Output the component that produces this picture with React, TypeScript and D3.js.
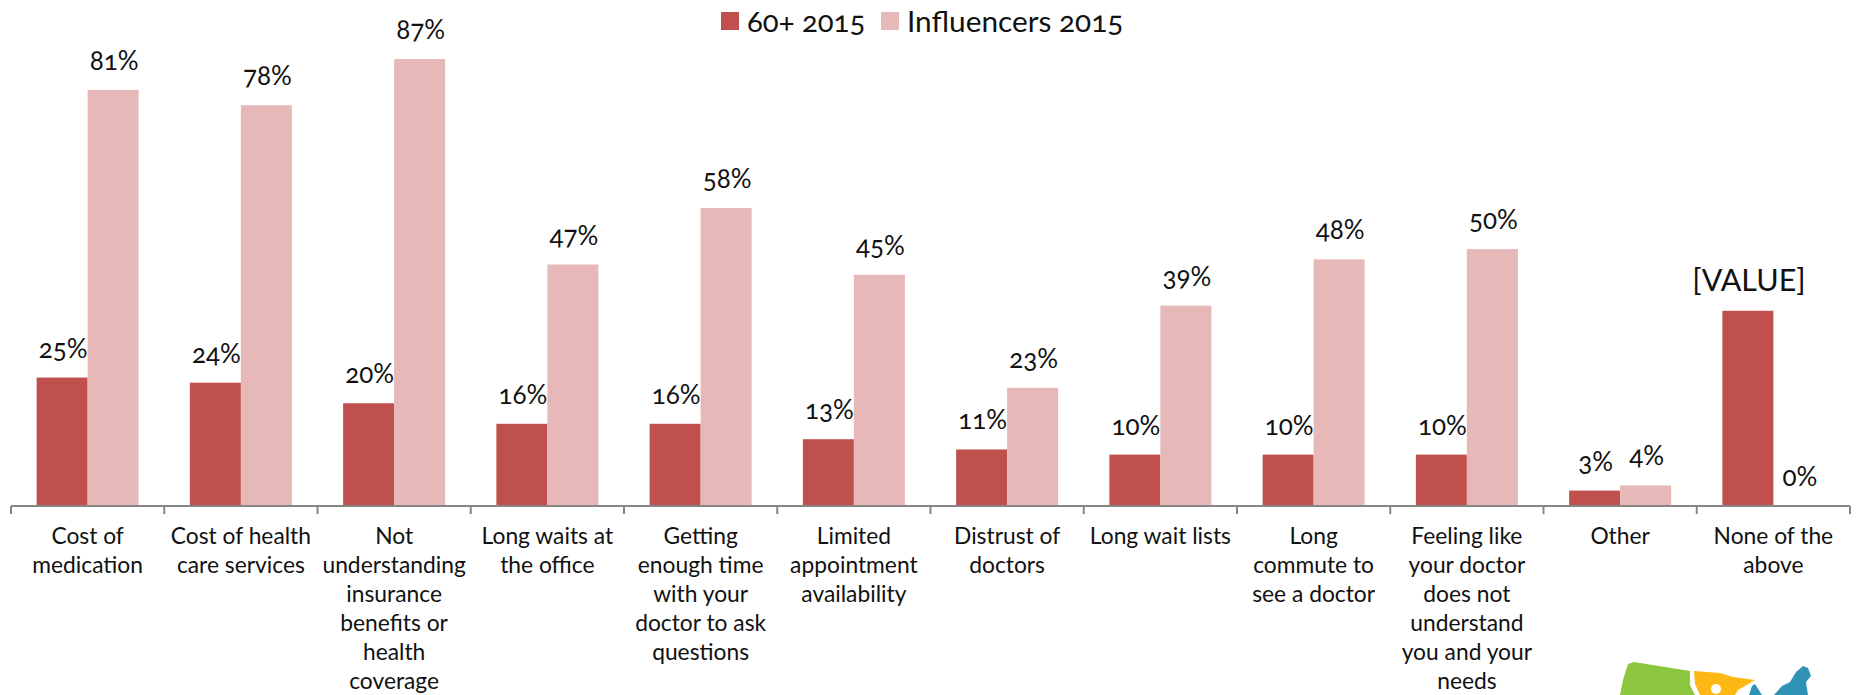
import React from "react";
import * as d3 from "d3";

const categories = [
  ["Cost of", "medication"],
  ["Cost of health", "care services"],
  ["Not", "understanding", "insurance", "benefits or", "health", "coverage"],
  ["Long waits at", "the office"],
  ["Getting", "enough time", "with your", "doctor to ask", "questions"],
  ["Limited", "appointment", "availability"],
  ["Distrust of", "doctors"],
  ["Long wait lists"],
  ["Long", "commute to", "see a doctor"],
  ["Feeling like", "your doctor", "does not", "understand", "you and your", "needs"],
  ["Other"],
  ["None of the", "above"],
];
const seniors = [25, 24, 20, 16, 16, 13, 11, 10, 10, 10, 3, 38];
const influencers = [81, 78, 87, 47, 58, 45, 23, 39, 48, 50, 4, 0];
const seniorLabels = ["25%", "24%", "20%", "16%", "16%", "13%", "11%", "10%", "10%", "10%", "3%", "[VALUE]"];
const influencerLabels = ["81%", "78%", "87%", "47%", "58%", "45%", "23%", "39%", "48%", "50%", "4%", "0%"];
const seriesNames = ["60+ 2015", "Influencers 2015"];

const RED = "#c0504d";
const PINK = "#e6b8b7";
const FONT = "Lato, 'Open Sans', sans-serif";
const AXIS_Y = 506;

export default function App() {
  const x = d3.scaleBand<number>().domain(d3.range(categories.length)).range([11, 1850]).paddingInner(0).paddingOuter(0);
  const y = d3.scaleLinear().domain([0, 87]).range([AXIS_Y, 59]);
  const step = x.step();
  const barW = 51;
  const cx = (i: number) => (x(i) as number) + step / 2;
  return (
    <svg width={1856} height={695} style={{ position: "absolute", left: 0, top: 0, display: "block", background: "#fff" }} fontFamily={FONT} fill="#111">
      {categories.map((_, i) => (
        <g key={i}>
          <rect x={cx(i) - barW} y={y(seniors[i])} width={barW} height={AXIS_Y - y(seniors[i])} fill={RED} />
          <rect x={cx(i)} y={y(influencers[i])} width={barW} height={AXIS_Y - y(influencers[i])} fill={PINK} />
          <text x={cx(i) - barW / 2 + 1} y={y(seniors[i]) - 20} textAnchor="middle" fontSize={i === 11 ? 30.5 : 26} style={{ fontFeatureSettings: "'onum'" }}>{seniorLabels[i]}</text>
          <text x={cx(i) + barW / 2 + 1} y={y(influencers[i]) - 20} textAnchor="middle" fontSize={26} style={{ fontFeatureSettings: "'onum'" }}>{influencerLabels[i]}</text>
          {categories[i].map((line, j) => (
            <text key={j} x={cx(i)} y={544 + j * 29} textAnchor="middle" fontSize={22.8}>{line}</text>
          ))}
        </g>
      ))}
      <line x1={11} x2={x(11)! + step} y1={AXIS_Y} y2={AXIS_Y} stroke="#868686" strokeWidth={2} />
      {d3.range(categories.length + 1).map((i) => {
        const tx = 11 + i * step;
        return <line key={i} x1={tx} x2={tx} y1={AXIS_Y} y2={AXIS_Y + 8} stroke="#868686" strokeWidth={2} />;
      })}
      <rect x={721} y={12} width={18} height={18} fill={RED} />
      <text x={747} y={32} fontSize={29.3} style={{ fontFeatureSettings: "'onum'" }}>{seriesNames[0]}</text>
      <rect x={881} y={12} width={18} height={18} fill={PINK} />
      <text x={907} y={32} fontSize={29.8} style={{ fontFeatureSettings: "'onum'" }}>{seriesNames[1]}</text>
      <path d="M1620 695 L1623 680 L1628 664 L1634 662 L1690 671 L1690 685 L1695 695 Z" fill="#8dc63f" />
      <path d="M1694 671 L1720 673 L1733 677 L1755 680 L1745 686 L1738 690 L1735 695 L1700 695 L1695 684 Z" fill="#fdb813" />
      <circle cx={1716} cy={689} r={5} fill="#fff" />
      <path d="M1749 695 L1752 686 L1755 684 L1762 695 Z M1774 695 L1782 686 L1790 682 L1796 672 L1803 666 L1808 668 L1811 676 L1806 682 L1808 695 Z" fill="#2e93b5" />
    </svg>
  );
}
